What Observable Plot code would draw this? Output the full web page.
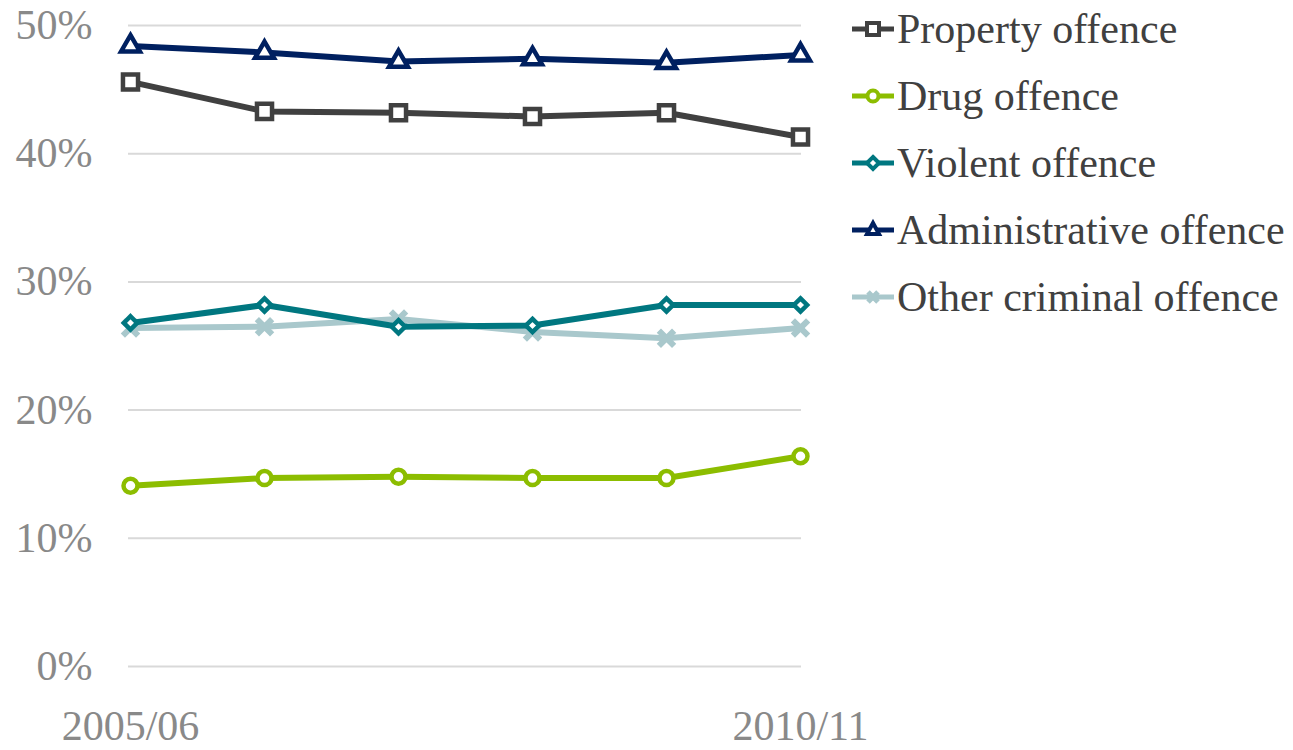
<!DOCTYPE html>
<html>
<head>
<meta charset="utf-8">
<script src="https://cdn.jsdelivr.net/npm/d3@7"></script>
<script src="https://cdn.jsdelivr.net/npm/@observablehq/plot@0.6"></script>
<style>
  body { margin: 0; background: #fff; }
  #wrap { position: relative; width: 1293px; height: 750px; font-family: "Liberation Serif", serif; }
  #legend { position: absolute; left: 852px; top: -5px; }
  .item { display: flex; align-items: center; height: 67px; font-size: 42px; color: #404040; white-space: nowrap; }
  .item svg { margin-right: 3px; }
</style>
</head>
<body>
<div id="wrap"><div id="legend"></div></div>
<script>
const years = ["2005/06", "2006/07", "2007/08", "2008/09", "2009/10", "2010/11"];
const seriesNames = ["Property offence", "Drug offence", "Violent offence", "Administrative offence", "Other criminal offence"];
const property = [45.6, 43.3, 43.2, 42.9, 43.2, 41.3];
const drug = [14.1, 14.7, 14.8, 14.7, 14.7, 16.4];
const violent = [26.8, 28.2, 26.5, 26.6, 28.2, 28.2];
const administrative = [48.4, 47.9, 47.2, 47.4, 47.1, 47.7];
const other = [26.4, 26.5, 27.1, 26.1, 25.6, 26.4];
const colors = ["#404040", "#8cbd00", "#007780", "#002060", "#a9c8cc"];
const symbols = ["square", "circle", "diamond2", "triangle", "times"];
const yTicks = [0, 10, 20, 30, 40, 50];

const valuesList = [property, drug, violent, administrative, other];
const rows = [];
seriesNames.forEach((s, i) => valuesList[i].forEach((v, j) => rows.push({series: s, year: years[j], value: v})));

const drawOrder = ["Other criminal offence", "Violent offence", "Drug offence", "Property offence", "Administrative offence"];

const colorOf = Object.fromEntries(seriesNames.map((s, i) => [s, colors[i]]));
const symOf = Object.fromEntries(seriesNames.map((s, i) => [s, symbols[i]]));
const rOf = {square: 8.5, circle: 7, diamond2: 6, triangle: 7, times: 7};

const marks = [
  Plot.ruleY(yTicks, {stroke: "#d9d9d9", strokeWidth: 2}),
  Plot.axisY({ticks: yTicks, tickSize: 0, tickPadding: 36, tickFormat: d => d + "%", fontSize: 42, color: "#898989", label: null}),
  Plot.axisX({tickSize: 0, tickPadding: 44, fontSize: 42, color: "#898989", label: null,
    tickFormat: (d, i) => (i === 0 || i === years.length - 1) ? d : ""})
];
for (const s of drawOrder) {
  const data = rows.filter(r => r.series === s);
  marks.push(Plot.line(data, {x: "year", y: "value", stroke: colorOf[s], strokeWidth: 6, strokeLinejoin: "round"}));
  const sym = symOf[s];
  if (sym === "times") {
    marks.push(Plot.dot(data, {x: "year", y: "value", symbol: "times", r: rOf[sym], stroke: colorOf[s], strokeWidth: 6}));
  } else {
    marks.push(Plot.dot(data, {x: "year", y: "value", symbol: sym, r: rOf[sym], fill: "#fff", stroke: colorOf[s], strokeWidth: 4.5}));
  }
}

const chart = Plot.plot({
  width: 1293, height: 750,
  marginLeft: 128, marginRight: 492, marginTop: 25, marginBottom: 84,
  style: {fontFamily: "Liberation Serif, serif", background: "#fff"},
  x: {type: "point", domain: years, padding: 0},
  y: {domain: [0, 50]},
  marks
});
document.getElementById("wrap").prepend(chart);

const legend = document.getElementById("legend");
const symPath = {
  square: '<rect x="15" y="9" width="12" height="12" fill="#fff" stroke="C" stroke-width="4"/>',
  circle: '<circle cx="21" cy="15" r="5.5" fill="#fff" stroke="C" stroke-width="4"/>',
  diamond2: '<path d="M21 9 L27 15 L21 21 L15 15 Z" fill="#fff" stroke="C" stroke-width="4"/>',
  triangle: '<path d="M21 8 L27 19 L15 19 Z" fill="#fff" stroke="C" stroke-width="4"/>',
  times: '<path d="M16 10 L26 20 M26 10 L16 20" stroke="C" stroke-width="5"/>'
};
seriesNames.forEach((s, i) => {
  const div = document.createElement("div");
  div.className = "item";
  div.innerHTML = `<svg width="42" height="30"><line x1="0" x2="42" y1="15" y2="15" stroke="${colors[i]}" stroke-width="5"/>${symPath[symbols[i]].replace(/C/g, colors[i])}</svg><span>${s}</span>`;
  legend.appendChild(div);
});
</script>
</body>
</html>
